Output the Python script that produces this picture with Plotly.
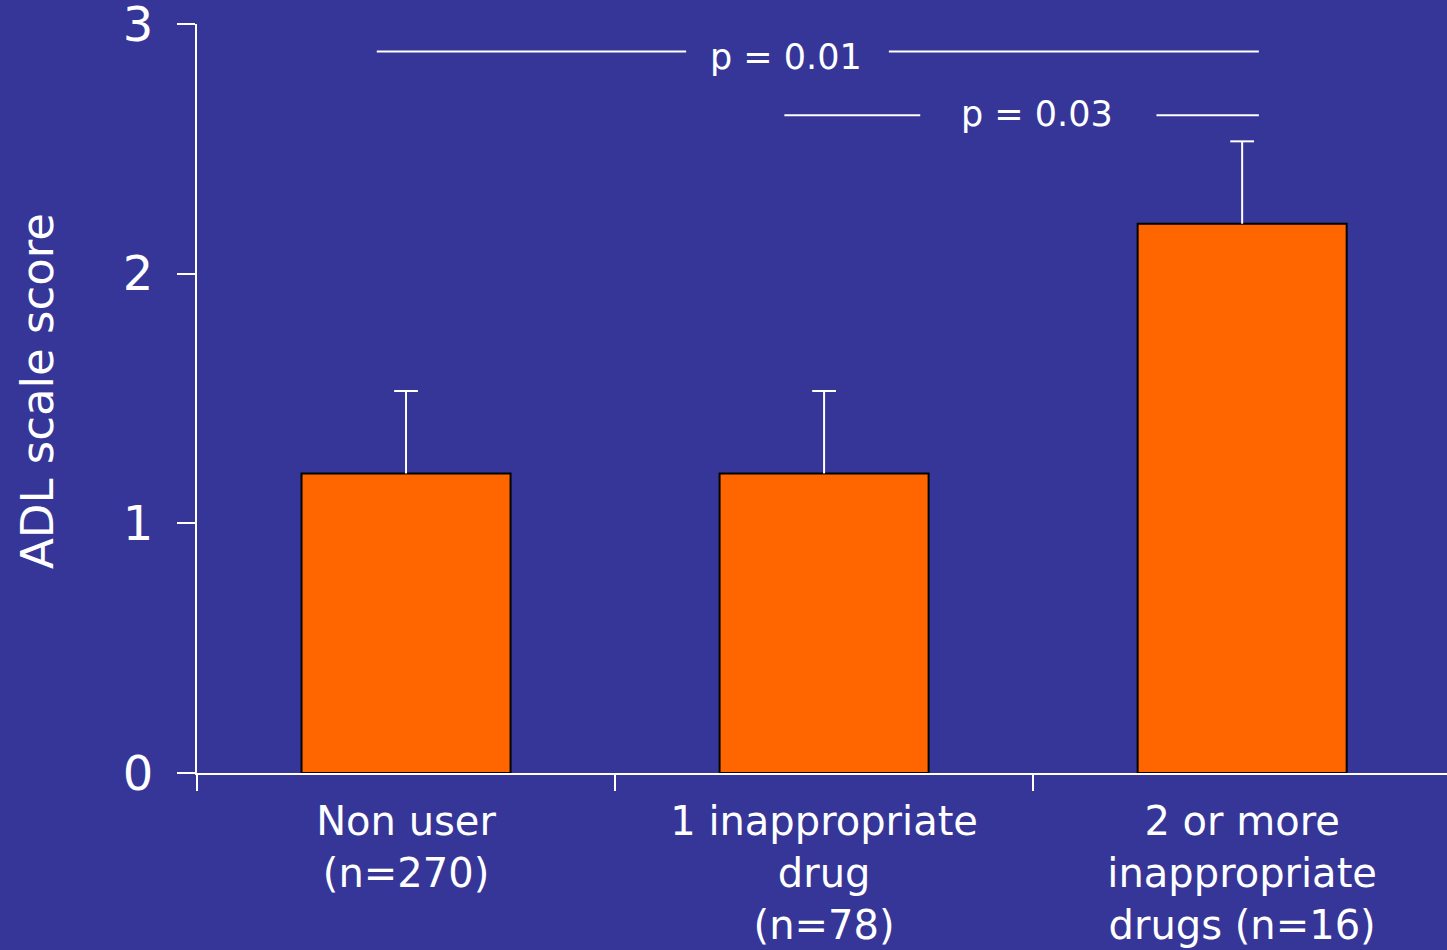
import plotly.graph_objects as go

# Group labels, mean ADL scores and upper error values
categories = ["Non user<br>(n=270)", "1 inappropriate<br>drug<br>(n=78)",
              "2 or more<br>inappropriate<br>drugs (n=16)"]
means = [1.2, 1.2, 2.2]
errors_upper = [0.33, 0.33, 0.33]
y_ticks = [0, 1, 2, 3]

# Significance brackets: label, y level, left segment and right segment (x in category units)
sig_labels = ["p = 0.01", "p = 0.03"]
sig_levels = [2.89, 2.635]
sig_left = [(-0.07, 0.67), (0.905, 1.23)]
sig_right = [(1.155, 2.04), (1.795, 2.04)]
sig_text_x = [0.91, 1.51]
sig_text_shift = [-6, 1]

BG = "#363698"
FONT = "DejaVu Sans"

fig = go.Figure()
fig.add_trace(go.Bar(
    x=categories, y=means, width=0.5,
    marker=dict(color="#FF6600", line=dict(color="black", width=2)),
    error_y=dict(type="data", array=errors_upper, symmetric=False,
                 arrayminus=[0, 0, 0], color="white", thickness=2, width=0),
))
# caps on the upper end of each error bar
fig.add_trace(go.Scatter(
    x=categories, y=[m + e for m, e in zip(means, errors_upper)], mode="markers",
    marker=dict(symbol="line-ew", size=17, line=dict(color="white", width=2)),
    hoverinfo="skip",
))

for label, lvl, (l0, l1), (r0, r1), tx, ys in zip(sig_labels, sig_levels, sig_left,
                                                  sig_right, sig_text_x, sig_text_shift):
    for a, b in [(l0, l1), (r0, r1)]:
        fig.add_shape(type="line", x0=a, x1=b, y0=lvl, y1=lvl, xref="x", yref="y",
                      line=dict(color="white", width=2))
    fig.add_annotation(x=tx, y=lvl, text=label, showarrow=False, xref="x", yref="y",
                       font=dict(family=FONT, size=35, color="white"), yshift=ys)

# rotated axis title
fig.add_annotation(text="ADL scale score", textangle=-90, showarrow=False,
                   xref="paper", yref="paper", x=-0.128, y=0.51,
                   xanchor="center", yanchor="middle",
                   font=dict(family=FONT, size=45, color="white"))

fig.update_layout(
    width=1447, height=950,
    paper_bgcolor=BG, plot_bgcolor=BG,
    margin=dict(l=197, r=0, t=24, b=177, autoexpand=False),
    showlegend=False,
    font=dict(family=FONT, color="white"),
    xaxis=dict(
        type="category", range=[-0.5, 2.49], automargin=False,
        tickson="boundaries", ticks="outside", ticklen=16, tickwidth=2, tickcolor="white",
        showline=True, linecolor="white", linewidth=2, showgrid=False, zeroline=False,
        ticklabelstandoff=12,
        tickfont=dict(family=FONT, size=40, color="white"),
    ),
    yaxis=dict(
        range=[0, 3], tickvals=y_ticks, ticks="outside", ticklen=18, tickwidth=2,
        tickcolor="white", showline=True, linecolor="white", linewidth=2,
        showgrid=False, zeroline=False, ticklabeloverflow="allow", ticklabelstandoff=14,
        automargin=False,
        tickfont=dict(family=FONT, size=48, color="white"),
    ),
)

fig.write_html("out.html")
